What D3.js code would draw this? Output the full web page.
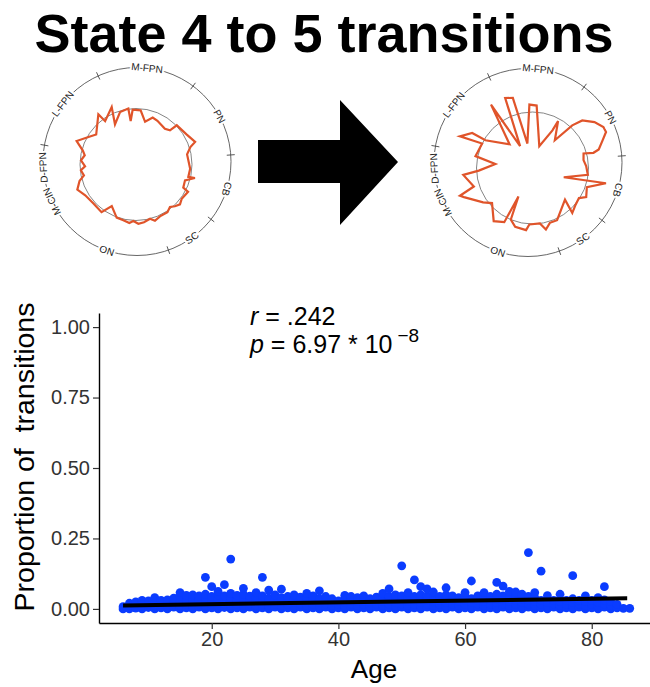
<!DOCTYPE html>
<html>
<head>
<meta charset="utf-8">
<script src="https://cdn.jsdelivr.net/npm/d3@7"></script>
<style>
  body { margin: 0; background: #fff; }
  svg { display: block; font-family: "Liberation Sans", Arial, Helvetica, sans-serif; }
</style>
</head>
<body>
<div id="chart"></div>
<script>
// ring segments (brain networks), start angle of each in degrees clockwise from top
var networks = ["M-FPN", "PN", "CB", "SC", "ON", "M-CIN", "D-FPN", "L-FPN"];
var networkStart = [335.6, 36.6, 86, 128, 160.5, 237, 252.6, 280];

// radar profile, state 4 (left) : angle of vertex, value relative to reference circle
var state4Angle = [323.1, 324.5, 337.1, 332.4, 343.1, 352.2, 353, 356.5, 4.9, 12, 19.6, 26.1, 39, 44.9, 46.1, 59.2, 69.1, 72.2, 78.8, 94.4,
  103.4, 102.9, 107.9, 116.1, 117.7, 126.8, 132.2, 137, 141.3, 146.6, 155.2, 161.4, 165.5, 172.1, 177.7, 182.7, 186.5, 192.8, 200, 210.2,
  215.9, 227.5, 238.8, 246.8, 253.8, 258.2, 264, 268, 274.3, 280.2, 284.9, 291.6, 300, 307];
var state4Value = [1.12, 0.95, 1.115, 0.81, 0.98, 1.01, 0.78, 0.98, 0.97, 0.78, 0.89, 0.87, 0.82, 0.86, 1.01, 1.05, 1.13, 1.02, 0.93, 0.97,
  0.96, 1.08, 0.92, 0.94, 1.05, 1.02, 1.06, 1.02, 0.97, 1.02, 1.02, 1.06, 1.0, 1.04, 1.06, 1.01, 1.05, 1.02, 1.01, 0.86,
  1.05, 1.03, 1.06, 1.14, 1.05, 0.95, 0.99, 0.91, 0.985, 0.93, 0.985, 1.14, 0.98, 0.89];

// radar profile, state 5 (right)
var state5Angle = [326.8, 330.4, 338.7, 344.3, 348.2, 357.2, 3.8, 17.3, 27.9, 28.6, 38.8, 43.0, 46.3, 53.5, 60.0, 63.9, 68.4, 74.4, 76.0, 74.1,
  81.2, 87.9, 97.1, 106.5, 101.7, 109.4, 118.4, 122.9, 130.4, 138.5, 134.3, 154.8, 162.4, 167.7, 172.4, 183.2, 185.9, 196.4, 202.8, 206.3,
  207.5, 216.1, 229.1, 235.2, 247.0, 249.1, 252.5, 264.3, 267.2, 276.1, 281.8, 286.5, 295.9, 293.6, 300.1, 300.5, 316.0];
var state5Value = [1.353, 0.448, 1.342, 1.299, 0.446, 1.134, 1.117, 0.408, 0.761, 0.954, 0.636, 1.041, 1.229, 1.377, 1.462, 1.462, 1.348, 1.228, 1.122, 0.948,
  0.922, 0.959, 0.996, 0.582, 1.34, 1.029, 1.09, 0.988, 1.011, 1.072, 0.811, 1.031, 1.027, 1.123, 1.0, 1.01, 1.115, 1.095, 0.998, 0.566,
  1.091, 1.176, 0.956, 1.074, 1.33, 1.387, 1.098, 1.242, 0.96, 0.667, 1.04, 1.018, 1.0, 1.413, 1.245, 0.976, 0.59];

// scatter: age and proportion of 4->5 transitions per subject
var ageTicks = [20, 40, 60, 80];
var propTicks = [0, 0.25, 0.5, 0.75, 1];
var scatterAges = [6, 7, 8, 9, 10, 11, 12, 13, 14, 15, 16, 17, 18, 19, 20, 21, 22, 23, 24, 25, 26, 27, 28, 29, 30,
  31, 32, 33, 34, 35, 36, 37, 38, 39, 40, 41, 42, 43, 44, 45, 46, 47, 48, 49, 50, 51, 52, 53, 54, 55, 56, 57, 58, 59, 60,
  61, 62, 63, 64, 65, 66, 67, 68, 69, 70, 71, 72, 73, 74, 75, 76, 77, 78, 79, 80, 81, 82, 83, 84, 85, 86];
var scatterProps = [
  [0, .008], [0, .012, .02], [.003, .015, .025], [0, .01, .022, .03], [.005, .018, .028],
  [0, .012, .024, .04], [.004, .015, .03], [0, .01, .02, .032], [.006, .018, .03, .038], [0, .012, .025, .045, .058],
  [.004, .016, .03, .048], [0, .01, .022, .036, .05], [.006, .018, .03, .046], [0, .012, .026, .04, .052, .112], [.004, .016, .03, .044, .079],
  [0, .01, .022, .036, .05, .062], [.005, .018, .032, .046, .086], [0, .012, .025, .04, .055, .177], [.004, .016, .03, .048], [0, .01, .022, .036, .052, .073],
  [.006, .018, .032, .045], [0, .012, .026, .04, .058], [.004, .016, .03, .046, .112], [0, .01, .022, .038, .067], [.006, .018, .032, .05],
  [0, .012, .026, .04, .07], [.004, .016, .03, .044], [0, .01, .022, .036, .05], [.006, .018, .03, .042], [0, .012, .026, .04, .055],
  [.004, .016, .03, .046], [0, .01, .022, .036, .064], [.006, .018, .03, .044], [0, .012, .024, .036], [.004, .016, .028],
  [0, .01, .022, .036, .048], [.006, .018, .03, .044], [0, .012, .026, .04], [.004, .016, .03, .046], [0, .01, .022, .036],
  [.006, .018, .03, .042], [0, .012, .026, .04, .055], [.004, .016, .03, .044, .071], [0, .01, .022, .036, .05], [.006, .018, .03, .046, .153],
  [0, .012, .026, .04, .058], [.004, .016, .03, .044, .103], [0, .01, .022, .036, .05, .079], [.006, .018, .03, .046, .071], [0, .012, .026, .04, .06],
  [.004, .016, .03, .044], [0, .01, .022, .036, .05, .075], [.006, .018, .03, .046], [0, .012, .026, .04], [.004, .016, .03, .044, .058],
  [0, .01, .022, .036, .099], [.006, .018, .03, .046], [0, .012, .026, .04, .058], [.004, .016, .03, .044], [0, .01, .022, .036, .052, .094],
  [.006, .018, .03, .046, .081], [0, .012, .026, .04, .062], [.004, .016, .03, .046, .06], [0, .01, .022, .036, .052], [.006, .018, .03, .044, .2],
  [0, .012, .026, .04, .058], [.004, .016, .03, .134], [0, .01, .022, .047], [.006, .018, .03], [0, .012, .026, .052],
  [.004, .016, .03], [0, .01, .022, .036, .118], [.006, .018, .03], [0, .012, .026, .046], [.004, .016, .03],
  [0, .01, .022, .04], [.006, .018, .032, .079], [0, .012, .026], [.004, .016], [.002], [.002]
];
// fitted regression line end points
var fitAge = [6, 85.6];
var fitProp = [0.012, 0.038];

var W = 650, H = 687;
var svg = d3.select("#chart").append("svg")
  .attr("width", W).attr("height", H);

// title
svg.append("text")
  .attr("x", 324).attr("y", 52)
  .attr("text-anchor", "middle")
  .style("font-size", "54px").style("font-weight", "bold")
  .text("State 4 to 5 transitions");

// ---- radar plots ----
function drawRadar(cx, cy, icx, icy, angles, values) {
  var g = svg.append("g");
  var outerR = 94;
  var r = d3.scaleLinear().domain([0, 1]).range([0, 56]);
  var rad = function(a) { return a * Math.PI / 180; };

  // reference circle
  g.append("circle").attr("cx", icx).attr("cy", icy).attr("r", r(1))
    .attr("fill", "none").attr("stroke", "#777").attr("stroke-width", 0.9);

  // profile
  var pts = angles.map(function(a, i) { return [rad(a), r(values[i])]; });
  g.append("path")
    .attr("transform", "translate(" + icx + "," + icy + ")")
    .attr("d", d3.lineRadial().curve(d3.curveLinearClosed)(pts))
    .attr("fill", "none").attr("stroke", "#e0542a").attr("stroke-width", 2.2)
    .attr("stroke-linejoin", "miter");

  // outer ring
  g.append("circle").attr("cx", cx).attr("cy", cy).attr("r", outerR)
    .attr("fill", "none").attr("stroke", "#555").attr("stroke-width", 0.9);

  // boundary ticks
  networkStart.forEach(function(a) {
    var s = Math.sin(rad(a)), c = -Math.cos(rad(a));
    g.append("line")
      .attr("x1", cx + s * (outerR - 4)).attr("y1", cy + c * (outerR - 4))
      .attr("x2", cx + s * (outerR + 4)).attr("y2", cy + c * (outerR + 4))
      .attr("stroke", "#444").attr("stroke-width", 0.9);
  });

  // labels
  networks.forEach(function(name, i) {
    var a0 = networkStart[i], a1 = networkStart[(i + 1) % networks.length];
    if (a1 < a0) a1 += 360;
    var mid = ((a0 + a1) / 2) % 360;
    var x = cx + Math.sin(rad(mid)) * outerR, y = cy - Math.cos(rad(mid)) * outerR;
    var rot = (mid > 115 && mid < 237) ? mid - 180 : mid;
    g.append("text")
      .attr("transform", "translate(" + x + "," + y + ") rotate(" + rot + ")")
      .attr("text-anchor", "middle").attr("dy", "0.35em")
      .style("font-size", "10px").style("fill", "#222")
      .style("stroke", "#fff").style("stroke-width", 4).style("paint-order", "stroke")
      .text(name);
  });
}

drawRadar(137, 161.5, 136, 164.5, state4Angle, state4Value);
drawRadar(528, 162.5, 532.5, 168, state5Angle, state5Value);

// arrow
var arrowPts = [[258, 140], [340, 140], [340, 100], [398, 162], [340, 225], [340, 183], [258, 183]];
svg.append("path")
  .attr("d", d3.line()(arrowPts) + "Z")
  .attr("fill", "#000");

// ---- scatter plot ----
var x = d3.scaleLinear().domain([2.2, 89.2]).range([99, 650]);
var y = d3.scaleLinear().domain([-0.05, 1.05]).range([623, 313]);

var points = [];
scatterAges.forEach(function(a, i) {
  scatterProps[i].forEach(function(p) { points.push({ age: a, p: p }); });
});

svg.append("g").selectAll("circle")
  .data(points).enter().append("circle")
  .attr("cx", function(d) { return x(d.age); })
  .attr("cy", function(d) { return y(d.p); })
  .attr("r", 4.4)
  .attr("fill", "#0a3cff");

svg.append("line")
  .attr("x1", x(fitAge[0])).attr("y1", y(fitProp[0]))
  .attr("x2", x(fitAge[1])).attr("y2", y(fitProp[1]))
  .attr("stroke", "#000").attr("stroke-width", 4);

var yAxis = svg.append("g")
  .attr("transform", "translate(99,0)")
  .call(d3.axisLeft(y).tickValues(propTicks).tickFormat(d3.format(".2f"))
    .tickSize(6).tickSizeOuter(0).tickPadding(3));
var xAxis = svg.append("g")
  .attr("transform", "translate(0,623)")
  .call(d3.axisBottom(x).tickValues(ageTicks).tickSize(6).tickSizeOuter(0).tickPadding(3));

[xAxis, yAxis].forEach(function(ax) {
  ax.select(".domain").attr("stroke", "#000").attr("stroke-width", 1.4);
  ax.selectAll(".tick line").attr("stroke", "#333").attr("stroke-width", 1.2);
  ax.selectAll(".tick text").style("font-size", "20px").style("fill", "#333")
    .style("font-family", "'Liberation Sans', Arial, sans-serif");
});

// axis titles
svg.append("text")
  .attr("x", 374).attr("y", 678)
  .attr("text-anchor", "middle")
  .style("font-size", "26px")
  .text("Age");
svg.append("text")
  .attr("transform", "translate(34,457) rotate(-90)")
  .attr("text-anchor", "middle")
  .style("font-size", "28.5px").style("white-space", "pre")
  .text("Proportion of  transitions");

// correlation annotation
var ann1 = svg.append("text").attr("x", 250).attr("y", 325).style("font-size", "25px");
ann1.append("tspan").style("font-style", "italic").text("r");
ann1.append("tspan").text(" = .242");
var ann2 = svg.append("text").attr("x", 250).attr("y", 353).style("font-size", "25px");
ann2.append("tspan").style("font-style", "italic").text("p");
ann2.append("tspan").text(" = 6.97 * 10");
ann2.append("tspan").attr("dx", 5).attr("dy", -11).style("font-size", "19px").text("\u22128");
</script>
</body>
</html>
